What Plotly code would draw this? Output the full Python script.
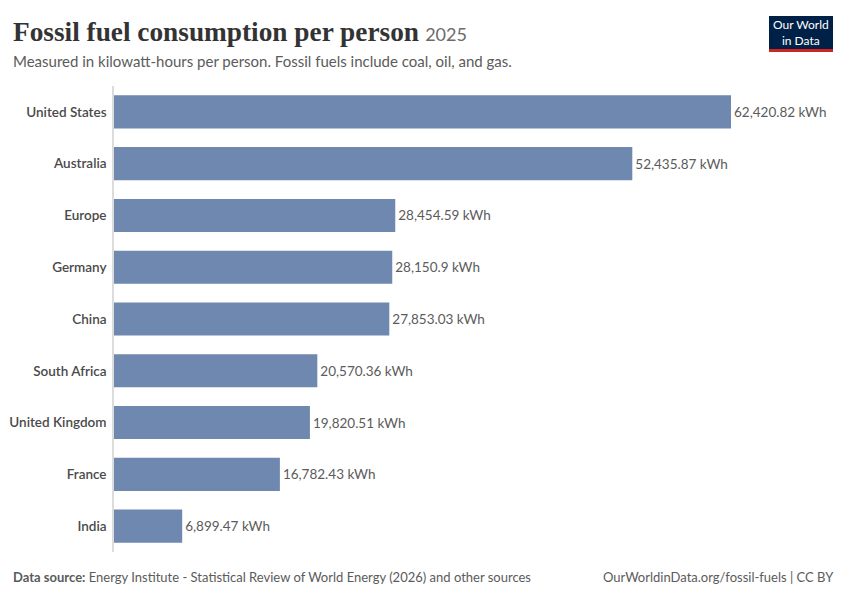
import plotly.graph_objects as go

# Data
countries = ["United States", "Australia", "Europe", "Germany", "China",
             "South Africa", "United Kingdom", "France", "India"]
values = [62420.82, 52435.87, 28454.59, 28150.9, 27853.03,
          20570.36, 19820.51, 16782.43, 6899.47]
value_labels = ["62,420.82 kWh", "52,435.87 kWh", "28,454.59 kWh", "28,150.9 kWh",
                "27,853.03 kWh", "20,570.36 kWh", "19,820.51 kWh", "16,782.43 kWh",
                "6,899.47 kWh"]

BAR = "#6e88b0"
TEXT = "#5b5b5b"

# page body adds an 8px margin at top/left, so the figure is 8px smaller
OFF = 8
W, H = 850 - OFF, 600 - OFF
L, R, T, B = 114 - OFF, 119, 86 - OFF, 48
PW, PH = W - L - R, H - T - B


def px(x):
    return (x - OFF - L) / PW


def py(y):
    return 1 - (y - OFF - T) / PH


fig = go.Figure()
fig.add_trace(go.Bar(
    y=countries,
    x=values,
    orientation="h",
    width=0.64,
    marker=dict(color=BAR, line=dict(width=0)),
    text=value_labels,
    textposition="outside",
    textfont=dict(family="Lato", size=13.5, color=TEXT),
    cliponaxis=False,
    hoverinfo="skip",
))

fig.update_layout(
    width=W, height=H,
    margin=dict(l=L, r=R, t=T, b=B),
    paper_bgcolor="white", plot_bgcolor="white",
    showlegend=False,
    xaxis=dict(range=[0, max(values)], visible=False, fixedrange=True, automargin=False),
    yaxis=dict(
        categoryorder="array", categoryarray=countries[::-1],
        showline=True, linecolor="#dcdcdc", linewidth=1.5,
        showgrid=False, ticks="", ticklabelstandoff=3,
        tickfont=dict(family="Lato", size=13.5, color="#4a4a4a", weight=600),
        fixedrange=True, automargin=False,
    ),
    font=dict(family="Lato"),
)

# Title and subtitle
fig.add_annotation(
    xref="paper", yref="paper", x=px(11), y=py(32), xanchor="left", yanchor="middle",
    text="<span style='font-family:Liberation Serif;font-size:27.3px;font-weight:bold;color:#333'>Fossil fuel consumption per person</span>"
         "&nbsp; <span style='font-size:18px;color:#6b6b6b'>2025</span>",
    showarrow=False,
)
fig.add_annotation(
    xref="paper", yref="paper", x=px(11), y=py(61), xanchor="left", yanchor="middle",
    text="Measured in kilowatt-hours per person. Fossil fuels include coal, oil, and gas.",
    font=dict(family="Lato", size=15, color=TEXT),
    showarrow=False,
)

# Footer
fig.add_annotation(
    xref="paper", yref="paper", x=px(11), y=py(577), xanchor="left", yanchor="middle",
    text="<b>Data source:</b> Energy Institute - Statistical Review of World Energy (2026) and other sources",
    font=dict(family="Lato", size=13, color=TEXT),
    showarrow=False,
)
fig.add_annotation(
    xref="paper", yref="paper", x=px(836), y=py(577), xanchor="right", yanchor="middle",
    text="OurWorldinData.org/fossil-fuels | CC BY",
    font=dict(family="Lato", size=13, color=TEXT),
    showarrow=False,
)

# Logo
fig.add_shape(type="rect", xref="paper", yref="paper",
              x0=px(769), x1=px(833), y0=py(49), y1=py(16),
              fillcolor="#002147", line=dict(width=0))
fig.add_shape(type="rect", xref="paper", yref="paper",
              x0=px(769), x1=px(833), y0=py(52), y1=py(49),
              fillcolor="#ce261e", line=dict(width=0))
fig.add_annotation(
    xref="paper", yref="paper", x=px(801), y=py(32.5),
    xanchor="center", yanchor="middle",
    text="Our World<br>in Data",
    font=dict(family="Lato", size=12, color="white"),
    showarrow=False,
)

fig.write_html("out.html")
